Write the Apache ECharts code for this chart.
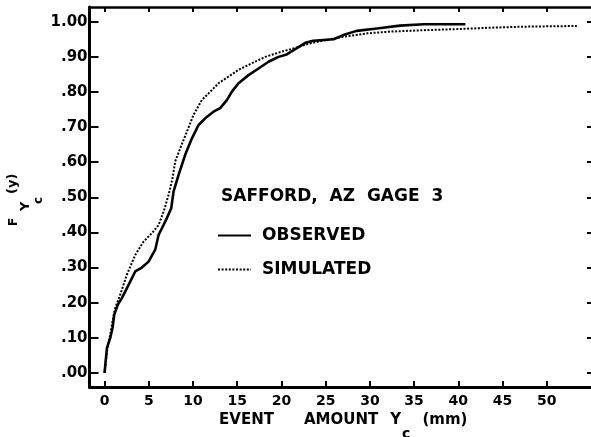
<!DOCTYPE html>
<html>
<head>
<meta charset="utf-8">
<script src="https://cdn.jsdelivr.net/npm/echarts@6/dist/echarts.min.js"></script>
<style>
  html, body { margin: 0; padding: 0; background: #fff; }
  #chart { width: 591px; height: 437px; }
</style>
</head>
<body>
<div id="chart"></div>
<script>
// observed curve (solid)
var observedX = [0, 0.27, 0.65, 0.9, 1.1, 1.51, 1.96, 2.72, 3.47, 4.22, 4.98, 5.73, 6.11, 6.49, 7.05, 7.54, 7.8, 8.37, 9.12, 9.88, 10.63, 11.38, 12.32, 13.08, 13.83, 14.4, 15.15, 16.28, 17.41, 18.54, 19.67, 20.6, 21.7, 22.7, 23.6, 25.9, 27.0, 28.5, 30.8, 33.4, 36.1, 38.3, 40.8]
var observedY = [0, 0.071, 0.10, 0.128, 0.166, 0.195, 0.213, 0.251, 0.289, 0.30, 0.317, 0.351, 0.393, 0.412, 0.441, 0.469, 0.516, 0.564, 0.621, 0.668, 0.706, 0.725, 0.744, 0.754, 0.777, 0.801, 0.825, 0.848, 0.867, 0.886, 0.90, 0.907, 0.924, 0.940, 0.946, 0.950, 0.962, 0.974, 0.981, 0.989, 0.993, 0.993, 0.993]

// simulated curve (dotted)
var simulatedX = [0, 0.3, 0.64, 1.0, 1.21, 1.77, 2.53, 3.47, 4.41, 5.35, 6.11, 6.67, 7.24, 7.69, 7.99, 8.56, 9.31, 10.06, 11.0, 11.76, 12.89, 14.02, 15.15, 16.66, 18.17, 20.05, 21.5, 23.0, 25.0, 27.0, 28.3, 29.7, 32.3, 36.1, 39.8, 43.6, 47.4, 53.4]
var simulatedY = [0, 0.07, 0.109, 0.16, 0.185, 0.223, 0.280, 0.336, 0.374, 0.398, 0.421, 0.459, 0.507, 0.555, 0.602, 0.640, 0.687, 0.735, 0.777, 0.796, 0.825, 0.844, 0.863, 0.882, 0.90, 0.915, 0.925, 0.937, 0.948, 0.957, 0.962, 0.967, 0.972, 0.976, 0.979, 0.983, 0.986, 0.988]

var xTicks = [0, 5, 10, 15, 20, 25, 30, 35, 40, 45, 50]
var yTicks = [0, 0.1, 0.2, 0.3, 0.4, 0.5, 0.6, 0.7, 0.8, 0.9, 1.0]
var yTickLabels = ['.00', '.10', '.20', '.30', '.40', '.50', '.60', '.70', '.80', '.90', '1.00']

var seriesNames = ['OBSERVED', 'SIMULATED']
var chartTitle = 'SAFFORD,  AZ  GAGE  3'

function pairs(xs, ys) {
  return xs.map(function (x, i) { return [x, ys[i]] })
}

var FONT = 'DejaVu Sans'
var chart = echarts.init(document.getElementById('chart'))

function ylabelPart(text, x, y, size) {
  return {
    type: 'text', x: x, y: y, rotation: Math.PI / 2,
    style: { text: text, fontFamily: FONT, fontWeight: 'bold', fontSize: size, fill: '#000', align: 'left', verticalAlign: 'top' }
  }
}

chart.setOption({
  backgroundColor: '#fff',
  animation: false,
  title: {
    text: chartTitle,
    left: 221,
    top: 188,
    padding: 0,
    textStyle: { fontFamily: FONT, fontWeight: 'bold', fontSize: 17, color: '#000' }
  },
  legend: {
    orient: 'vertical',
    left: 217,
    top: 227,
    padding: 0,
    itemWidth: 33,
    itemHeight: 14,
    itemGap: 17,
    data: seriesNames,
    itemStyle: { opacity: 0 },
    textStyle: { fontFamily: FONT, fontWeight: 'bold', fontSize: 17, color: '#000', padding: [0, 0, 0, 6] }
  },
  grid: { left: 89.5, top: 7, right: 0, bottom: 50, outerBoundsMode: 'none' },
  xAxis: [{
    type: 'value',
    min: -1.7,
    max: 55,
    position: 'bottom',
    splitLine: { show: false },
    axisLine: { onZero: false, lineStyle: { color: '#000', width: 3 } },
    axisTick: { inside: true, length: 6, customValues: xTicks, lineStyle: { color: '#000', width: 2 } },
    axisLabel: {
      customValues: xTicks, margin: 7, color: '#000',
      fontFamily: FONT, fontWeight: 'bold', fontSize: 14
    },
    name: '{g0| }{a|EVENT}{g1| }{a|AMOUNT}{g2| }{a|Y}{b|c}{g2| }{a|(mm)}',
    nameLocation: 'middle',
    nameGap: 24,
    nameTextStyle: {
      rich: {
        a: { fontFamily: FONT, fontWeight: 'bold', fontSize: 15, color: '#000', verticalAlign: 'top', lineHeight: 18 },
        b: { fontFamily: FONT, fontWeight: 'bold', fontSize: 14, color: '#000', verticalAlign: 'top', padding: [14, 0, 0, 1] },
        g0: { width: 6, fontSize: 15 },
        g1: { width: 30, fontSize: 15 },
        g2: { width: 12, fontSize: 15 }
      }
    }
  }, {
    type: 'value',
    min: -1.7,
    max: 55,
    position: 'top',
    splitLine: { show: false },
    axisLine: { onZero: false, lineStyle: { color: '#000', width: 2.5 } },
    axisTick: { inside: true, length: 5, customValues: xTicks, lineStyle: { color: '#000', width: 2 } },
    axisLabel: { show: false }
  }],
  yAxis: [{
    type: 'value',
    min: -0.04,
    max: 1.042,
    position: 'left',
    splitLine: { show: false },
    axisLine: { onZero: false, lineStyle: { color: '#000', width: 3 } },
    axisTick: { inside: true, length: 9, customValues: yTicks, lineStyle: { color: '#000', width: 2 } },
    axisLabel: {
      customValues: yTicks, margin: 2, color: '#000',
      fontFamily: FONT, fontWeight: 'bold', fontSize: 15,
      formatter: function (v) { return yTickLabels[Math.round(v * 10)] }
    }
  }, {
    type: 'value',
    min: -0.04,
    max: 1.042,
    position: 'right',
    splitLine: { show: false },
    axisLine: { show: false, onZero: false },
    axisTick: { show: true, inside: true, length: 4, customValues: yTicks, lineStyle: { color: '#000', width: 2 } },
    axisLabel: { show: false }
  }],
  graphic: [
    ylabelPart('F', 8, 226, 12),
    ylabelPart('Y', 19, 211, 13),
    ylabelPart('c', 33, 204, 12),
    ylabelPart('(y)', 6, 194, 13)
  ],
  series: [{
    name: 'OBSERVED',
    type: 'line',
    symbol: 'none',
    data: pairs(observedX, observedY),
    lineStyle: { color: '#000', width: 2.6 },
    itemStyle: { color: '#000' },
    z: 3
  }, {
    name: 'SIMULATED',
    type: 'line',
    symbol: 'none',
    data: pairs(simulatedX, simulatedY),
    lineStyle: { color: '#000', width: 2, type: [2, 1.6] },
    itemStyle: { color: '#000' },
    z: 2
  }]
})
</script>
</body>
</html>
